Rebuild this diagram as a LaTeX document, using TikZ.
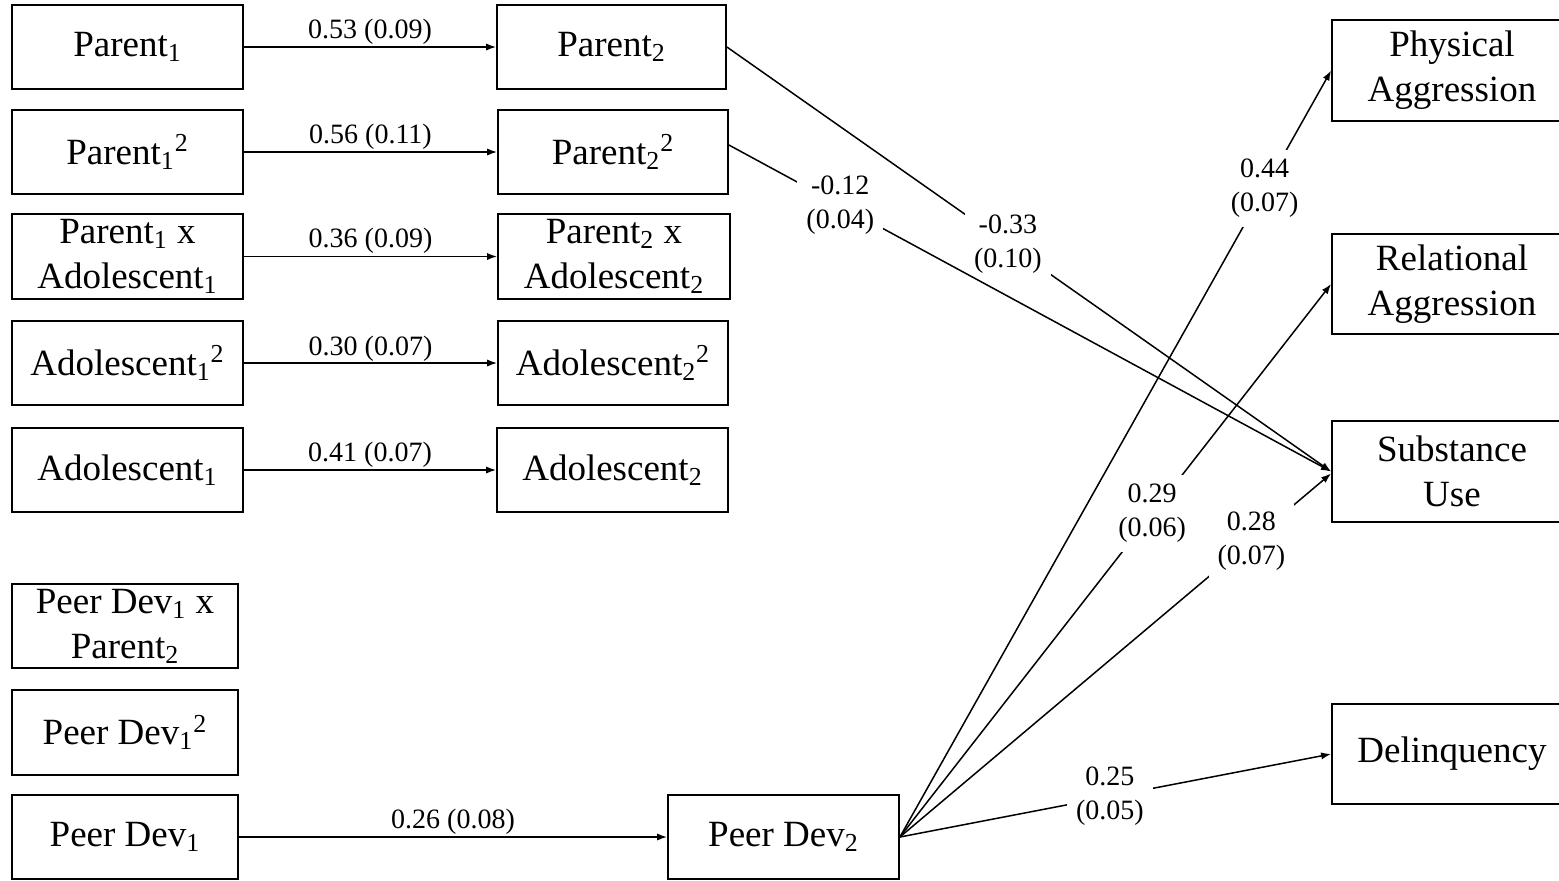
\documentclass[tikz,border=0pt]{standalone}
\usepackage{fontspec}
\setmainfont{Liberation Serif}
\usetikzlibrary{arrows.meta}

\tikzset{
  box/.style={draw, line width=0.9pt, inner sep=0pt, align=center,
    font=\fontsize{18.5}{22.5}\selectfont},
  conn/.style={line width=0.75pt, -{Latex[length=5pt,width=3.6pt]}},
  coef/.style={font=\fontsize{14}{17}\selectfont, inner sep=1pt},
  gapcoef/.style={coef, fill=white, align=center, inner sep=4.5pt},
}

\begin{document}
\begin{tikzpicture}[x=0.5pt,y=-0.5pt]
\useasboundingbox (0,0) rectangle (1559,880);
\clip (0,0) rectangle (1559,880);

% time 1 measures
\node[box, minimum width=115.5pt, minimum height=42pt] (p1)  at (127.5,47)  {Parent\textsubscript{1}};
\node[box, minimum width=115.5pt, minimum height=42pt] (p1s) at (127.5,152) {Parent\textsubscript{1}\textsuperscript{2}};
\node[box, minimum width=115.5pt, minimum height=42.5pt] (pa1) at (127.5,256.5) {Parent\textsubscript{1} x\\Adolescent\textsubscript{1}};
\node[box, minimum width=115.5pt, minimum height=42pt] (a1s) at (127.5,363) {Adolescent\textsubscript{1}\textsuperscript{2}};
\node[box, minimum width=115.5pt, minimum height=42pt] (a1)  at (127.5,470) {Adolescent\textsubscript{1}};
\node[box, minimum width=113pt, minimum height=42pt] (pdp) at (125,626) {Peer Dev\textsubscript{1} x\\Parent\textsubscript{2}};
\node[box, minimum width=113pt, minimum height=42.5pt] (pd1s) at (125,732.5) {Peer Dev\textsubscript{1}\textsuperscript{2}};
\node[box, minimum width=113pt, minimum height=42pt] (pd1) at (125,837) {Peer Dev\textsubscript{1}};

% time 2 measures
\node[box, minimum width=114.5pt, minimum height=42pt] (p2)  at (611.5,47)  {Parent\textsubscript{2}};
\node[box, minimum width=115pt, minimum height=42pt] (p2s) at (613,152) {Parent\textsubscript{2}\textsuperscript{2}};
\node[box, minimum width=116pt, minimum height=42.5pt] (pa2) at (614,256.5) {Parent\textsubscript{2} x\\Adolescent\textsubscript{2}};
\node[box, minimum width=115pt, minimum height=42pt] (a2s) at (613,363) {Adolescent\textsubscript{2}\textsuperscript{2}};
\node[box, minimum width=115.5pt, minimum height=42pt] (a2)  at (612.5,470) {Adolescent\textsubscript{2}};
\node[box, minimum width=115.5pt, minimum height=42pt] (pd2) at (783.5,837) {Peer Dev\textsubscript{2}};

% outcomes
\node[box, minimum width=120pt, minimum height=50.5pt] (pa) at (1452,70.5) {Physical\\Aggression};
\node[box, minimum width=120pt, minimum height=50pt] (ra) at (1452,284) {Relational\\Aggression};
\node[box, minimum width=120pt, minimum height=50.5pt] (su) at (1452,471.5) {Substance\\Use};
\node[box, minimum width=120pt, minimum height=50pt] (dl) at (1452,754) {Delinquency};

% stability paths
\draw[conn] (p1)  -- node[coef, anchor=south] {0.53 (0.09)} (p2);
\draw[conn] (p1s) -- node[coef, anchor=south] {0.56 (0.11)} (p2s);
\draw[conn] (pa1) -- node[coef, anchor=south] {0.36 (0.09)} (pa2);
\draw[conn] (a1s) -- node[coef, anchor=south, inner sep=0.5pt] {0.30 (0.07)} (a2s);
\draw[conn] (a1)  -- node[coef, anchor=south] {0.41 (0.07)} (a2);
\draw[conn] (pd1) -- node[coef, anchor=south] {0.26 (0.08)} (pd2);

% paths to outcomes
\draw[conn] (p2.east) -- node[gapcoef, pos=0.465] {-0.33\\(0.10)} (su.west);
\draw[conn] ([yshift=3.5pt]p2s.east) -- node[gapcoef, pos=0.185] {-0.12\\(0.04)} (su.west);
\draw[conn] (pd2.east) -- node[gapcoef, pos=0.846] {0.44\\(0.07)} (pa.west);
\draw[conn] (pd2.east) -- node[gapcoef, pos=0.585] {0.29\\(0.06)} (ra.west);
\draw[conn] (pd2.east) -- node[gapcoef, pos=0.815] {0.28\\(0.07)} ([yshift=-1pt]su.west);
\draw[conn] (pd2.east) -- node[gapcoef, pos=0.487] {0.25\\(0.05)} (dl.west);
\end{tikzpicture}
\end{document}
